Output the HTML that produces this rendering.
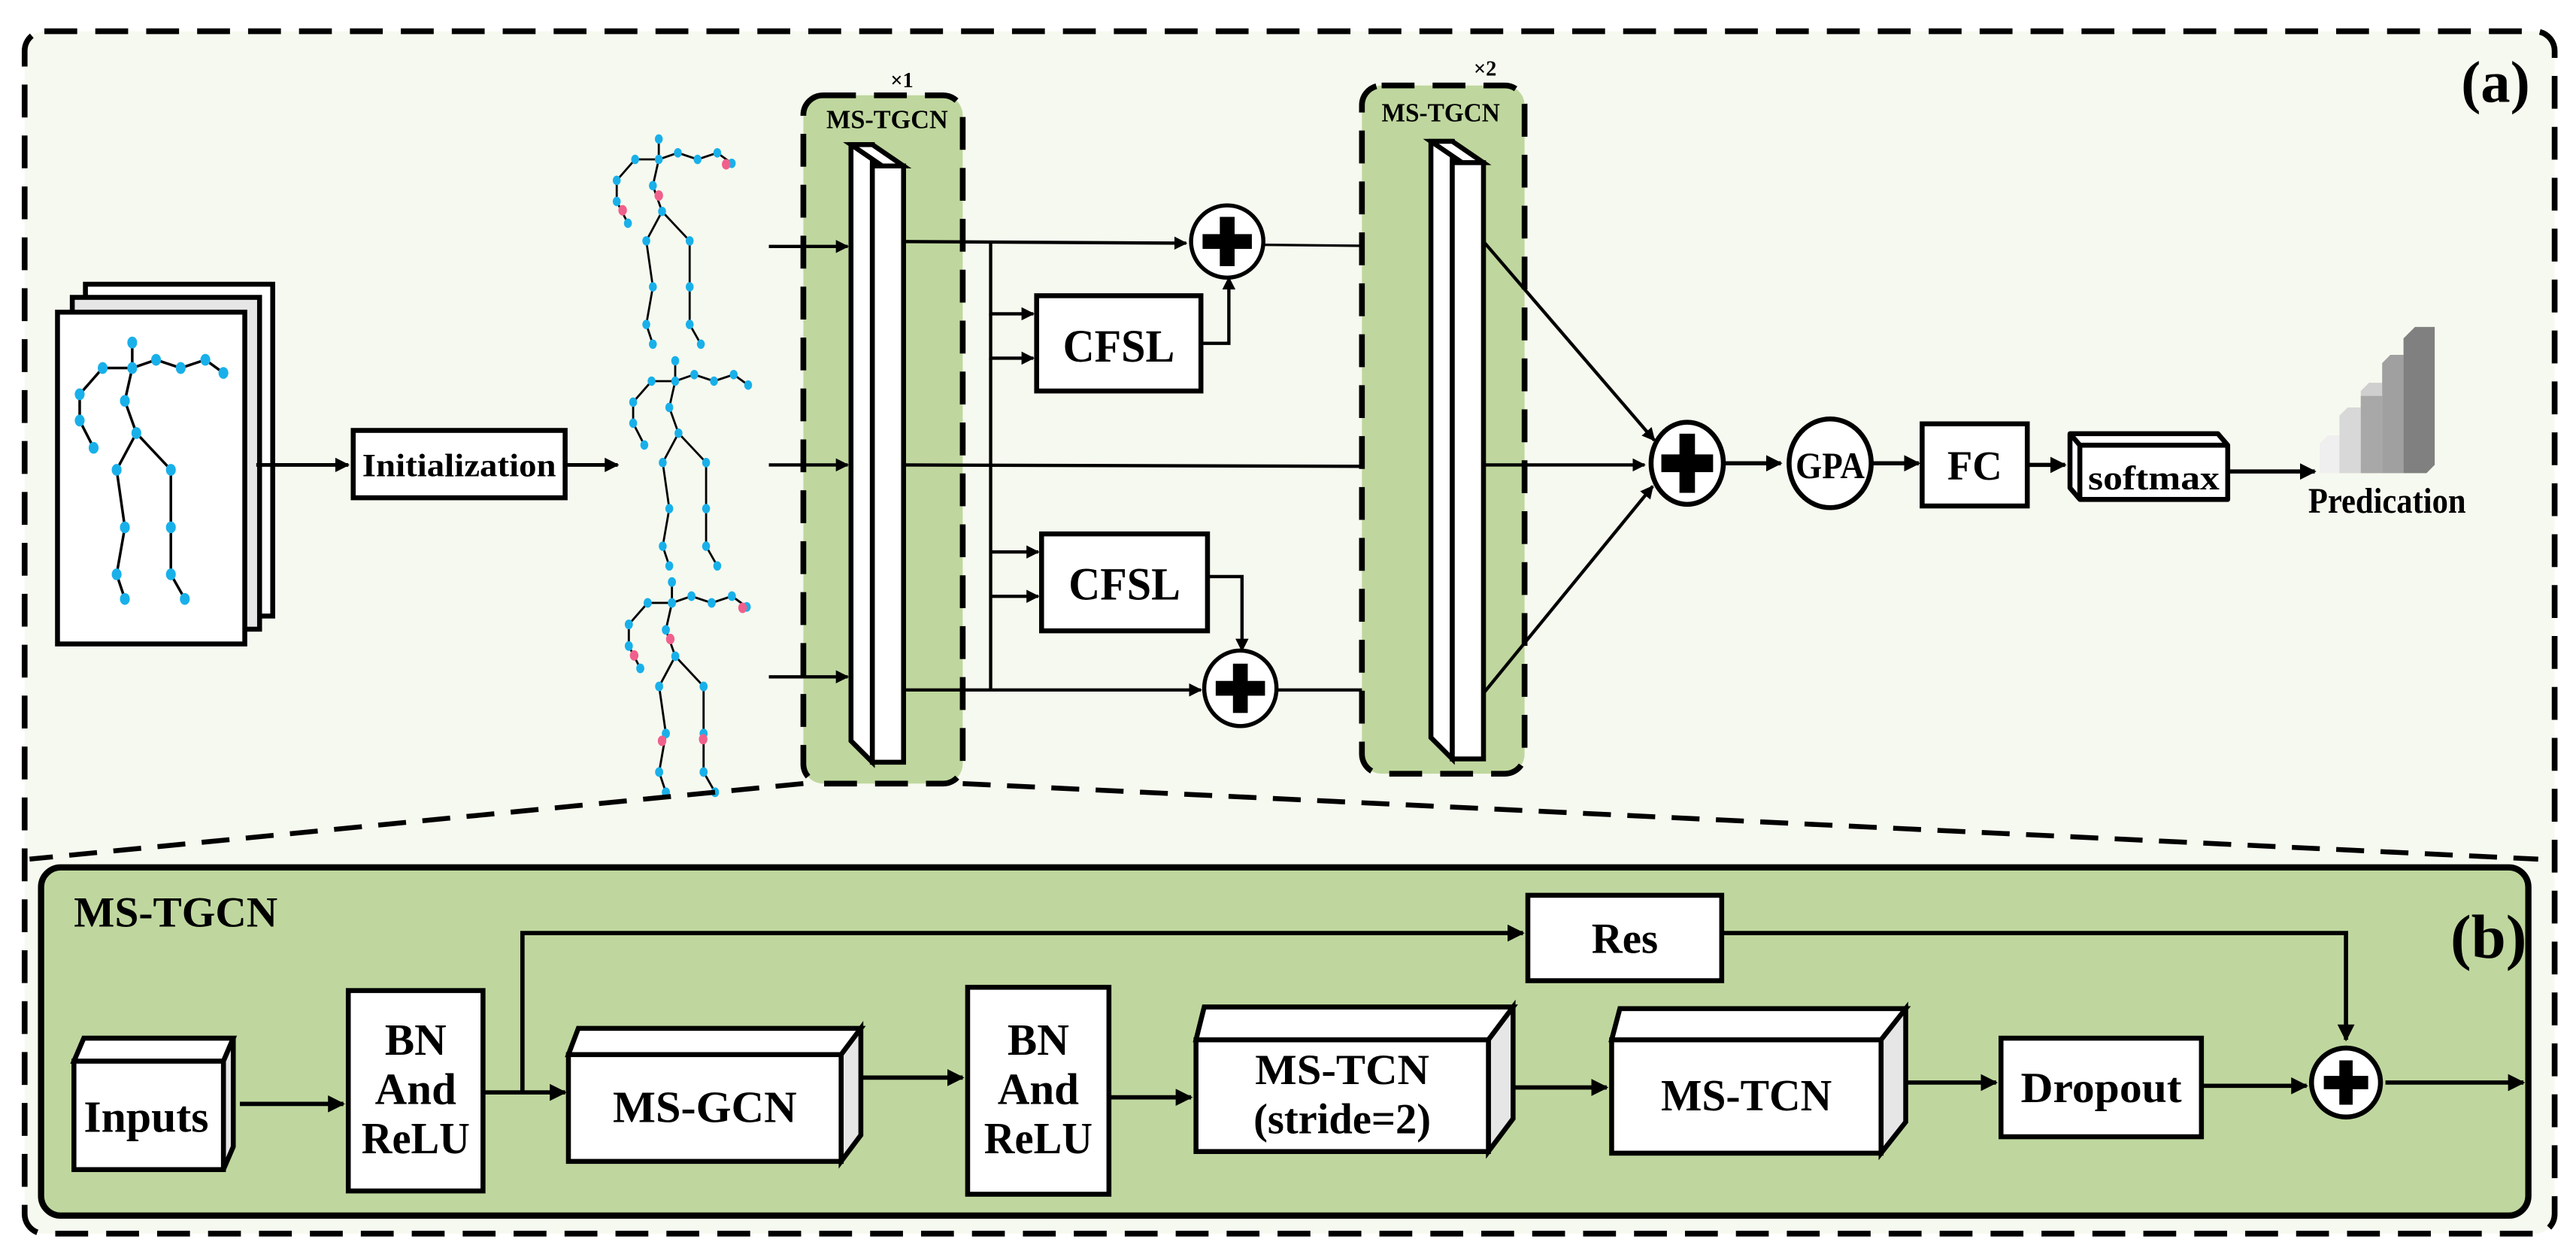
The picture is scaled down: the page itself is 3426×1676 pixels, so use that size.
<!DOCTYPE html>
<html><head><meta charset="utf-8"><style>
html,body{margin:0;padding:0;background:#fff;}
svg{display:block;}
text{font-family:"Liberation Serif","DejaVu Serif",serif;font-weight:bold;fill:#000;}
</style></head><body>
<svg width="3426" height="1676" viewBox="0 0 1568 767" xmlns="http://www.w3.org/2000/svg" font-family="Liberation Serif, serif">
<defs>
<marker id="ah" viewBox="0 0 10 10" refX="9" refY="5" markerWidth="4" markerHeight="4" orient="auto" markerUnits="strokeWidth"><path d="M0,0 L10,5 L0,10 z" fill="#000"/></marker>
<g id="pl"><rect x="-4.5" y="-15" width="9" height="30" fill="#000"/><rect x="-15" y="-4.5" width="30" height="9" fill="#000"/></g>
<g id="sk">
 <g stroke="#000" stroke-width="1.6" fill="none">
  <polyline points="0,-15.5 0,0 14.5,-5 29.5,0 44.5,-5 55.5,3"/>
  <polyline points="0,0 -18,0 -32,16 -32,32 -23.5,48.6"/>
  <polyline points="0,0 -4.5,20 2.5,39.6 -9.5,62 -4.5,97 -9.5,125.6 -4.5,140.6"/>
  <polyline points="2.5,39.6 23.5,62 23.5,97 23.5,125.6 32,140.6"/>
 </g>
 <g fill="#19b0ea">
  <ellipse cx="0" cy="-15.5" rx="3" ry="3.6"/><ellipse cx="0" cy="0" rx="3" ry="3.6"/>
  <ellipse cx="14.5" cy="-5" rx="3" ry="3.6"/><ellipse cx="29.5" cy="0" rx="3" ry="3.6"/>
  <ellipse cx="44.5" cy="-5" rx="3" ry="3.6"/><ellipse cx="55.5" cy="3" rx="3" ry="3.6"/>
  <ellipse cx="-18" cy="0" rx="3" ry="3.6"/><ellipse cx="-32" cy="16" rx="3" ry="3.6"/>
  <ellipse cx="-32" cy="32" rx="3" ry="3.6"/><ellipse cx="-23.5" cy="48.6" rx="3" ry="3.6"/>
  <ellipse cx="-4.5" cy="20" rx="3" ry="3.6"/><ellipse cx="2.5" cy="39.6" rx="3" ry="3.6"/>
  <ellipse cx="-9.5" cy="62" rx="3" ry="3.6"/><ellipse cx="23.5" cy="62" rx="3" ry="3.6"/>
  <ellipse cx="-4.5" cy="97" rx="3" ry="3.6"/><ellipse cx="-9.5" cy="125.6" rx="3" ry="3.6"/>
  <ellipse cx="-4.5" cy="140.6" rx="3" ry="3.6"/><ellipse cx="23.5" cy="97" rx="3" ry="3.6"/>
  <ellipse cx="23.5" cy="125.6" rx="3" ry="3.6"/><ellipse cx="32" cy="140.6" rx="3" ry="3.6"/>
 </g>
</g>
</defs>
<rect x="0" y="0" width="1568" height="767" fill="#fff"/>
<rect x="15" y="19" width="1540" height="732" rx="12" fill="#f6f9ef" stroke="#000" stroke-width="3.5" stroke-dasharray="20,11"/>
<text x="1540" y="62" font-size="36" text-anchor="end">(a)</text>

<rect x="52" y="173" width="114" height="202" fill="#fff" stroke="#000" stroke-width="3"/>
<rect x="44" y="181" width="114" height="202" fill="#e6e6e6" stroke="#000" stroke-width="3"/>
<rect x="35" y="190" width="114" height="202" fill="#fff" stroke="#000" stroke-width="3"/>
<use href="#sk" transform="translate(80.5,224)"/>

<line x1="156" y1="283" x2="212" y2="283" stroke="#000" stroke-width="2.2" marker-end="url(#ah)"/>
<rect x="215" y="262" width="129" height="41" fill="#fff" stroke="#000" stroke-width="3"/>
<text x="279.5" y="290" font-size="20" text-anchor="middle" textLength="118" lengthAdjust="spacingAndGlyphs">Initialization</text>
<line x1="344" y1="283" x2="376" y2="283" stroke="#000" stroke-width="2.2" marker-end="url(#ah)"/>

<use href="#sk" transform="translate(401,97) scale(0.8)"/>
<use href="#sk" transform="translate(411,232) scale(0.8)"/>
<use href="#sk" transform="translate(409,367) scale(0.82)"/>
<g fill="#f0608c">
<ellipse cx="442" cy="100" rx="2.6" ry="3.2"/><ellipse cx="379" cy="128" rx="2.6" ry="3.2"/><ellipse cx="401" cy="119" rx="2.6" ry="3.2"/>
<ellipse cx="452" cy="370" rx="2.6" ry="3.2"/><ellipse cx="386" cy="399" rx="2.6" ry="3.2"/><ellipse cx="408" cy="389" rx="2.6" ry="3.2"/>
<ellipse cx="403" cy="451" rx="2.6" ry="3.2"/><ellipse cx="428" cy="450" rx="2.6" ry="3.2"/>
</g>

<rect x="489" y="58" width="97" height="419" rx="12" fill="#bfd79e" stroke="#000" stroke-width="3.5" stroke-dasharray="20,11"/>
<text x="540" y="78" font-size="16" text-anchor="middle" textLength="74" lengthAdjust="spacingAndGlyphs">MS-TGCN</text>
<text x="549" y="53" font-size="13" text-anchor="middle">×1</text>
<g stroke="#000" stroke-width="3" fill="#fff">
<polygon points="518,88 531,88 531,464 518,451"/>
<polygon points="518,88 531,88 550,101 537,101"/>
<polygon points="531,101 550,101 550,464 531,464"/>
</g>
<line x1="468" y1="150" x2="516" y2="150" stroke="#000" stroke-width="2" marker-end="url(#ah)"/>
<line x1="468" y1="283" x2="516" y2="283" stroke="#000" stroke-width="2" marker-end="url(#ah)"/>
<line x1="468" y1="412" x2="516" y2="412" stroke="#000" stroke-width="2" marker-end="url(#ah)"/>

<line x1="550" y1="147" x2="722" y2="148" stroke="#000" stroke-width="2" marker-end="url(#ah)"/>
<polyline points="603,147 603,191 629,191" fill="none" stroke="#000" stroke-width="2" marker-end="url(#ah)"/>
<polyline points="603,191 603,218 629,218" fill="none" stroke="#000" stroke-width="2" marker-end="url(#ah)"/>
<rect x="631" y="180" width="100" height="58" fill="#fff" stroke="#000" stroke-width="3"/>
<text x="681" y="220" font-size="28" text-anchor="middle" textLength="68" lengthAdjust="spacingAndGlyphs">CFSL</text>
<polyline points="731,209 748,209 748,169" fill="none" stroke="#000" stroke-width="2" marker-end="url(#ah)"/>
<ellipse cx="747" cy="147" rx="22" ry="22" fill="#fff" stroke="#000" stroke-width="2.5"/>
<use href="#pl" transform="translate(747,147)"/>
<line x1="769" y1="149" x2="869" y2="150" stroke="#000" stroke-width="1.5" marker-end="url(#ah)"/>

<line x1="550" y1="283" x2="866" y2="284" stroke="#000" stroke-width="2" marker-end="url(#ah)"/>

<line x1="603" y1="218" x2="603" y2="420" stroke="#000" stroke-width="2"/>
<line x1="603" y1="336" x2="632" y2="336" stroke="#000" stroke-width="2" marker-end="url(#ah)"/>
<line x1="603" y1="363" x2="632" y2="363" stroke="#000" stroke-width="2" marker-end="url(#ah)"/>
<rect x="634" y="325" width="101" height="59" fill="#fff" stroke="#000" stroke-width="3"/>
<text x="684.5" y="365" font-size="28" text-anchor="middle" textLength="68" lengthAdjust="spacingAndGlyphs">CFSL</text>
<polyline points="735,351 756,351 756,396" fill="none" stroke="#000" stroke-width="2" marker-end="url(#ah)"/>
<line x1="550" y1="420" x2="731" y2="420" stroke="#000" stroke-width="2" marker-end="url(#ah)"/>
<ellipse cx="755" cy="419" rx="22" ry="23" fill="#fff" stroke="#000" stroke-width="2.5"/>
<use href="#pl" transform="translate(755,419)"/>
<line x1="777" y1="420" x2="869" y2="420" stroke="#000" stroke-width="2" marker-end="url(#ah)"/>

<rect x="829" y="52" width="99" height="419" rx="12" fill="#bfd79e" stroke="#000" stroke-width="3.5" stroke-dasharray="20,11"/>
<text x="877" y="74" font-size="16" text-anchor="middle" textLength="72" lengthAdjust="spacingAndGlyphs">MS-TGCN</text>
<text x="904" y="46" font-size="13" text-anchor="middle">×2</text>
<g stroke="#000" stroke-width="3" fill="#fff">
<polygon points="871,86 884,86 884,462 871,449"/>
<polygon points="871,86 884,86 903,99 890,99"/>
<polygon points="884,99 903,99 903,462 884,462"/>
</g>

<line x1="903" y1="147" x2="1007" y2="268" stroke="#000" stroke-width="2" marker-end="url(#ah)"/>
<line x1="903" y1="283" x2="1001" y2="283" stroke="#000" stroke-width="2" marker-end="url(#ah)"/>
<line x1="903" y1="422" x2="1006" y2="296" stroke="#000" stroke-width="2" marker-end="url(#ah)"/>
<ellipse cx="1027" cy="282" rx="22" ry="25" fill="#fff" stroke="#000" stroke-width="3"/>
<g transform="translate(1027,282) scale(1.05,1.2)"><use href="#pl"/></g>
<line x1="1049" y1="282" x2="1084" y2="282" stroke="#000" stroke-width="2.5" marker-end="url(#ah)"/>
<ellipse cx="1114" cy="282" rx="25" ry="27" fill="#fff" stroke="#000" stroke-width="3"/>
<text x="1114" y="291" font-size="23" text-anchor="middle" textLength="42" lengthAdjust="spacingAndGlyphs">GPA</text>
<line x1="1139" y1="282" x2="1168" y2="282" stroke="#000" stroke-width="2.5" marker-end="url(#ah)"/>
<rect x="1170" y="258" width="64" height="50" fill="#fff" stroke="#000" stroke-width="3"/>
<text x="1202" y="292" font-size="25" text-anchor="middle">FC</text>
<line x1="1234" y1="283" x2="1257" y2="283" stroke="#000" stroke-width="2.5" marker-end="url(#ah)"/>
<g stroke="#000" stroke-width="3" fill="#fff" stroke-linejoin="round">
<polygon points="1260,264 1350,264 1356,271 1356,304 1266,304 1260,297"/>
<polyline points="1260,264 1266,271 1356,271" fill="none"/>
<line x1="1266" y1="271" x2="1266" y2="304"/>
</g>
<text x="1311" y="298" font-size="21" text-anchor="middle" textLength="80" lengthAdjust="spacingAndGlyphs">softmax</text>
<line x1="1356" y1="287" x2="1409" y2="287" stroke="#000" stroke-width="2.5" marker-end="url(#ah)"/>
<g>
<polygon points="1412,288 1412,270 1417,265 1424,265 1424,288" fill="#efefef"/>
<polygon points="1424,288 1424,253 1429,248 1437,248 1437,288" fill="#d8d8d8"/>
<polygon points="1437,288 1437,238 1442,233 1450,233 1450,288" fill="#cfcfcf"/>
<rect x="1437" y="241" width="13" height="47" fill="#a8a8a8"/>
<polygon points="1450,288 1450,221 1455,216 1463,216 1463,288" fill="#a0a0a0"/>
<polygon points="1463,288 1463,206 1470,199 1482,199 1482,283 1477,288" fill="#808080"/>
</g>
<text x="1453" y="312" font-size="22" text-anchor="middle" textLength="96" lengthAdjust="spacingAndGlyphs">Predication</text>

<line x1="489" y1="477" x2="18" y2="523" stroke="#000" stroke-width="3" stroke-dasharray="17,10"/>
<line x1="586" y1="477" x2="1545" y2="523" stroke="#000" stroke-width="3" stroke-dasharray="17,10"/>

<rect x="25" y="528" width="1514" height="212" rx="12" fill="#bfd79e" stroke="#000" stroke-width="3.8"/>
<text x="45" y="564" font-size="26" textLength="124" lengthAdjust="spacingAndGlyphs">MS-TGCN</text>
<text x="1538" y="583" font-size="38" text-anchor="end">(b)</text>

<g stroke="#000" stroke-width="3">
<polygon points="45,646 51,632 142,632 136,646" fill="#fff"/>
<polygon points="136,646 142,632 142,698 136,712" fill="#e6e6e6"/>
<rect x="45" y="646" width="91" height="66" fill="#fff"/>
<rect x="212" y="603" width="82" height="122" fill="#fff"/>
<polygon points="346,642 352,626 524,626 512,642" fill="#fff"/>
<polygon points="512,642 524,626 524,691 512,707" fill="#e6e6e6"/>
<rect x="346" y="642" width="166" height="65" fill="#fff"/>
<rect x="589" y="601" width="86" height="126" fill="#fff"/>
<polygon points="728,633 733,613 921,613 906,633" fill="#fff"/>
<polygon points="906,633 921,613 921,681 906,701" fill="#e6e6e6"/>
<rect x="728" y="633" width="178" height="68" fill="#fff"/>
<polygon points="981,633 986,614 1160,614 1145,633" fill="#fff"/>
<polygon points="1145,633 1160,614 1160,683 1145,702" fill="#e6e6e6"/>
<rect x="981" y="633" width="164" height="69" fill="#fff"/>
<rect x="1218" y="632" width="122" height="60" fill="#fff"/>
<rect x="930" y="545" width="118" height="52" fill="#fff"/>
</g>
<text x="89" y="689" font-size="27" text-anchor="middle" textLength="76" lengthAdjust="spacingAndGlyphs">Inputs</text>
<text x="253" y="642" font-size="27" text-anchor="middle">BN</text>
<text x="253" y="672" font-size="27" text-anchor="middle">And</text>
<text x="253" y="702" font-size="27" text-anchor="middle" textLength="66" lengthAdjust="spacingAndGlyphs">ReLU</text>
<text x="429" y="683" font-size="27" text-anchor="middle" textLength="112" lengthAdjust="spacingAndGlyphs">MS-GCN</text>
<text x="632" y="642" font-size="27" text-anchor="middle">BN</text>
<text x="632" y="672" font-size="27" text-anchor="middle">And</text>
<text x="632" y="702" font-size="27" text-anchor="middle" textLength="66" lengthAdjust="spacingAndGlyphs">ReLU</text>
<text x="817" y="660" font-size="26" text-anchor="middle" textLength="106" lengthAdjust="spacingAndGlyphs">MS-TCN</text>
<text x="817" y="690" font-size="26" text-anchor="middle" textLength="108" lengthAdjust="spacingAndGlyphs">(stride=2)</text>
<text x="1063" y="676" font-size="27" text-anchor="middle" textLength="104" lengthAdjust="spacingAndGlyphs">MS-TCN</text>
<text x="1279" y="671" font-size="26" text-anchor="middle" textLength="98" lengthAdjust="spacingAndGlyphs">Dropout</text>
<text x="989" y="580" font-size="26" text-anchor="middle">Res</text>

<g stroke="#000" stroke-width="2.6" fill="none">
<line x1="146" y1="672" x2="209" y2="672" marker-end="url(#ah)"/>
<line x1="294" y1="665" x2="344" y2="665" marker-end="url(#ah)"/>
<polyline points="318,665 318,568 927,568" marker-end="url(#ah)"/>
<polyline points="1048,568 1428,568 1428,633" marker-end="url(#ah)"/>
<line x1="524" y1="656" x2="586" y2="656" marker-end="url(#ah)"/>
<line x1="675" y1="668" x2="725" y2="668" marker-end="url(#ah)"/>
<line x1="921" y1="662" x2="978" y2="662" marker-end="url(#ah)"/>
<line x1="1160" y1="659" x2="1215" y2="659" marker-end="url(#ah)"/>
<line x1="1340" y1="661" x2="1404" y2="661" marker-end="url(#ah)"/>
<line x1="1452" y1="659" x2="1536" y2="659" marker-end="url(#ah)"/>
</g>
<ellipse cx="1428" cy="659" rx="21" ry="21" fill="#fff" stroke="#000" stroke-width="3"/>
<g transform="translate(1428,659) scale(0.9)"><use href="#pl"/></g>
</svg>
</body></html>
